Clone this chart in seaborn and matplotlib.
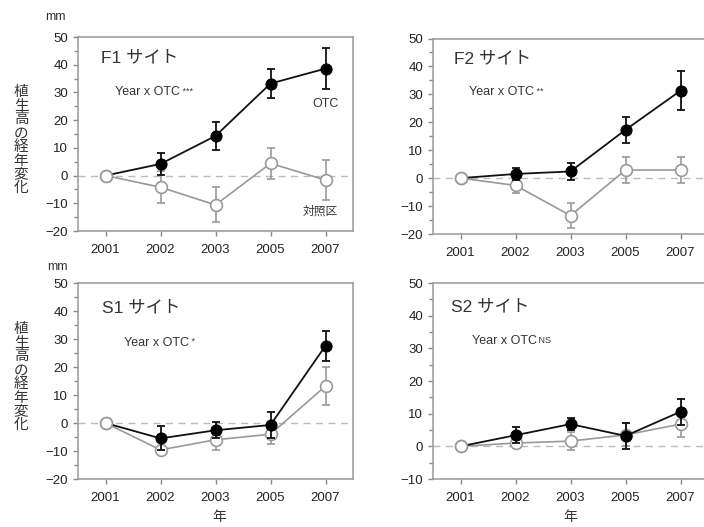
import numpy as np
import pandas as pd
import seaborn as sns
import matplotlib.pyplot as plt
from matplotlib.ticker import MultipleLocator

sns.set_style("ticks")
plt.rcParams["font.family"] = ["Liberation Sans", "Noto Sans CJK JP", "DejaVu Sans"]

years = ["2001", "2002", "2003", "2005", "2007"]
sites = ["F1 サイト", "F2 サイト", "S1 サイト", "S2 サイト"]
stars = ["***", "**", "*", "NS"]

# OTC (black, filled) mean and error
otc_f1 = [0, 4.2, 14.3, 33.2, 38.6]
otc_f1_err = [0, 4.0, 5.0, 5.2, 7.4]
otc_f2 = [0, 1.5, 2.4, 17.3, 31.3]
otc_f2_err = [0, 2.0, 3.1, 4.6, 7.0]
otc_s1 = [0, -5.5, -2.6, -0.7, 27.6]
otc_s1_err = [0, 4.3, 2.8, 4.6, 5.3]
otc_s2 = [0, 3.4, 6.8, 3.2, 10.6]
otc_s2_err = [0, 2.5, 1.9, 4.0, 4.0]

# control (grey, open) mean and error
ctl_f1 = [0, -4.2, -10.6, 4.4, -1.6]
ctl_f1_err = [0, 5.8, 6.3, 5.6, 7.2]
ctl_f2 = [0, -2.6, -13.4, 2.9, 2.9]
ctl_f2_err = [0, 2.7, 4.6, 4.5, 4.5]
ctl_s1 = [0, -9.6, -6.0, -4.0, 13.2]
ctl_s1_err = [0, 1.0, 3.8, 3.4, 6.7]
ctl_s2 = [0, 1.0, 1.6, 3.5, 6.8]
ctl_s2_err = [0, 1.5, 2.8, 3.5, 4.0]

otc = [otc_f1, otc_f2, otc_s1, otc_s2]
otc_err = [otc_f1_err, otc_f2_err, otc_s1_err, otc_s2_err]
ctl = [ctl_f1, ctl_f2, ctl_s1, ctl_s2]
ctl_err = [ctl_f1_err, ctl_f2_err, ctl_s1_err, ctl_s2_err]

ylims = [(-20, 50), (-20, 50), (-20, 50), (-10, 50)]
title_pos = [(-0.09, 42.4), (-0.11, 42.8), (-0.06, 41.3), (-0.17, 42.6)]
stat_pos = [(0.18, 30), (0.15, 30.7), (0.33, 28.7), (0.2, 32.2)]

W, H = 704, 527
boxes = [(78, 353, 37, 231), (433, 708, 38.5, 234),
         (78, 353, 283, 479), (433, 708, 283, 479)]

fig = plt.figure(figsize=(W / 100, H / 100), dpi=100)

grey = "#999999"
text_c = "#333333"

for i in range(4):
    l, r, t, b = boxes[i]
    ax = fig.add_axes([l / W, 1 - b / H, (r - l) / W, (b - t) / H])

    df = pd.DataFrame({"year": years, "otc": otc[i], "ctl": ctl[i]})
    ax.axhline(0, color="#bbbbbb", lw=1, ls=(0, (5, 4)), zorder=1)

    ax.errorbar(years, ctl[i], yerr=ctl_err[i], fmt="none", ecolor=grey,
                elinewidth=1.2, capsize=3, capthick=1.2, zorder=2)
    sns.lineplot(data=df, x="year", y="ctl", ax=ax, color=grey, lw=1.2,
                 marker="o", markersize=8.5, markerfacecolor="white",
                 markeredgecolor=grey, markeredgewidth=1.2, zorder=3)
    ax.errorbar(years, otc[i], yerr=otc_err[i], fmt="none", ecolor="#111111",
                elinewidth=1.3, capsize=3, capthick=1.3, zorder=4)
    sns.lineplot(data=df, x="year", y="otc", ax=ax, color="#111111", lw=1.3,
                 marker="o", markersize=8, markerfacecolor="black",
                 markeredgecolor="black", zorder=5)
    # 2001 starting point drawn open on top
    ax.plot(years[:1], ctl[i][:1], "o", ms=8.5, mfc="white", mec=grey,
            mew=1.2, zorder=6)

    ax.set_xlim(-0.5, 4.5)
    ax.set_ylim(*ylims[i])
    ax.yaxis.set_major_locator(MultipleLocator(10))
    ax.yaxis.set_minor_locator(MultipleLocator(5))
    ax.set_xlabel("")
    ax.set_ylabel("")
    ax.tick_params(axis="both", which="major", length=3.5, width=1,
                   color="#888888", labelsize=9.5, labelcolor="#222222")
    ax.tick_params(axis="y", which="minor", length=3, width=1, color="#888888")
    ax.tick_params(axis="x", pad=6)
    for side in ["left", "bottom", "top", "right"]:
        ax.spines[side].set_color("#999999")
        ax.spines[side].set_linewidth(1.1)

    ax.text(*title_pos[i], sites[i], fontsize=12.5, color=text_c,
            ha="left", va="center")
    st = ax.text(*stat_pos[i], "Year x OTC", fontsize=9, color=text_c,
                 ha="left", va="center")
    ax.annotate(" " + stars[i], xy=(1, 0.95), xycoords=st, fontsize=6.5,
                color=text_c, ha="left", va="top")

    if i == 0:
        ax.text(4.0, 25.9, "OTC", fontsize=9, color=text_c,
                ha="center", va="center")
        ax.text(3.9, -13.1, "対照区", fontsize=8.5, color=text_c,
                ha="center", va="center")

ylab = "\n".join("植生高の経年変化")
fig.text(21 / W, 1 - 140 / H, ylab, fontsize=10.5, color=text_c,
         ha="center", va="center", linespacing=0.97)
fig.text(21 / W, 1 - 377 / H, ylab, fontsize=10.5, color=text_c,
         ha="center", va="center", linespacing=0.97)
fig.text(55 / W, 1 - 17 / H, "mm", fontsize=9, color=text_c,
         ha="center", va="center")
fig.text(57 / W, 1 - 267 / H, "mm", fontsize=9, color=text_c,
         ha="center", va="center")
fig.text(219 / W, 1 - 517 / H, "年", fontsize=10, color=text_c,
         ha="center", va="center")
fig.text(570 / W, 1 - 517 / H, "年", fontsize=10, color=text_c,
         ha="center", va="center")

fig.savefig("out.png", dpi=100)
